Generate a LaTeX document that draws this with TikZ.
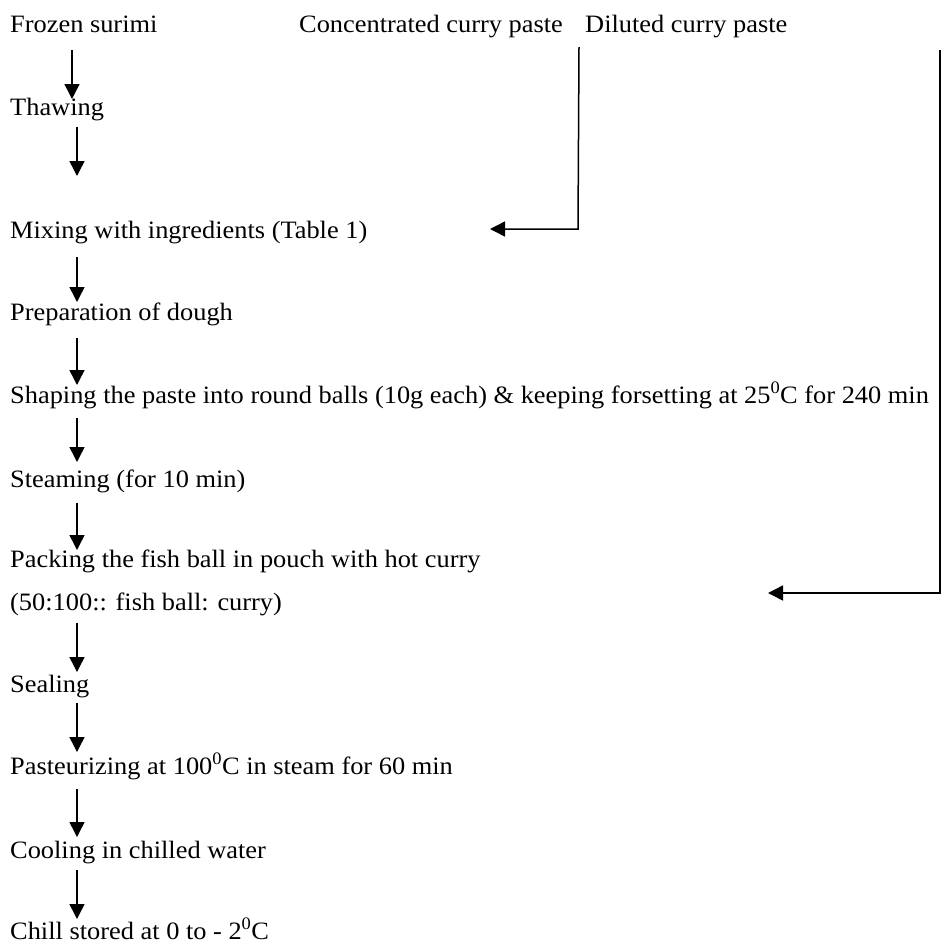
\documentclass[tikz,border=0pt]{standalone}
\usepackage{fontspec}
\setmainfont{Liberation Serif}[FakeStretch=1.055]
\usetikzlibrary{arrows.meta}
\begin{document}
\begin{tikzpicture}[x=1pt,y=-1pt,
  lbl/.style={anchor=base west,inner sep=0pt,font=\fontsize{25}{29}\selectfont},
  flow/.style={line width=1.5pt,-{Triangle[width=15pt,length=15pt]}}]
\useasboundingbox (0,0) rectangle (944,943);
\node[lbl] (frozen) at (10,32) {Frozen surimi};
\node[lbl] (conc) at (299,32) {Concentrated curry paste};
\node[lbl] (dil) at (585,32) {Diluted curry paste};
\node[lbl] (thaw) at (10,115) {Thawing};
\node[lbl] (mix) at (10,238) {Mixing with ingredients (Table 1)};
\node[lbl] (prep) at (10,320) {Preparation of dough};
\node[lbl] (shape) at (10,403) {Shaping the paste into round balls (10g each) \& keeping forsetting at 25\textsuperscript{0}C for 240 min};
\node[lbl] (steam) at (10,487) {Steaming (for 10 min)};
\node[lbl] (pack) at (10,567) {Packing the fish ball in pouch with hot curry};
\node[lbl] (ratio) at (10,610) {(50:100:: fish ball: curry)};
\node[lbl] (seal) at (10,692) {Sealing};
\node[lbl] (past) at (10,774) {Pasteurizing at 100\textsuperscript{0}C in steam for 60 min};
\node[lbl] (cool) at (10,858) {Cooling in chilled water};
\node[lbl] (chill) at (10,939) {Chill stored at 0 to - 2\textsuperscript{0}C};
% coordinates for arrow ends
\coordinate (a1s) at (72,50);  \coordinate (a1e) at (72,99);
\coordinate (a2s) at (77,127); \coordinate (a2e) at (77,176);
\coordinate (a3s) at (77,257); \coordinate (a3e) at (77,302);
\coordinate (a4s) at (77,338); \coordinate (a4e) at (77,385);
\coordinate (a5s) at (77,418); \coordinate (a5e) at (77,462);
\coordinate (a6s) at (77,503); \coordinate (a6e) at (77,550);
\coordinate (a7s) at (77,623); \coordinate (a7e) at (77,672);
\coordinate (a8s) at (77,703); \coordinate (a8e) at (77,752);
\coordinate (a9s) at (77,789); \coordinate (a9e) at (77,837);
\coordinate (a10s) at (77,870); \coordinate (a10e) at (77,919);
\coordinate (cs) at (579,47); \coordinate (cc) at (578,229); \coordinate (ce) at (490,229);
\coordinate (ds) at (940,50); \coordinate (dc) at (940,593); \coordinate (de) at (768,593);
\draw[flow] (a1s) -- (a1e);
\draw[flow] (a2s) -- (a2e);
\draw[flow] (a3s) -- (a3e);
\draw[flow] (a4s) -- (a4e);
\draw[flow] (a5s) -- (a5e);
\draw[flow] (a6s) -- (a6e);
\draw[flow] (a7s) -- (a7e);
\draw[flow] (a8s) -- (a8e);
\draw[flow] (a9s) -- (a9e);
\draw[flow] (a10s) -- (a10e);
\draw[flow] (cs) -- (cc) -- (ce);
\draw[flow] (ds) -- (dc) -- (de);
\end{tikzpicture}
\end{document}
